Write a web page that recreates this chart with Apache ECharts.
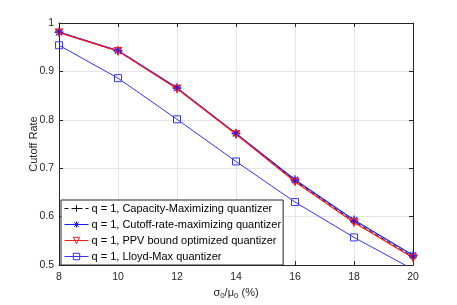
<!DOCTYPE html>
<html><head><meta charset="utf-8">
<script src="https://cdn.jsdelivr.net/npm/echarts@6/dist/echarts.min.js"></script>
<style>html,body{margin:0;padding:0;background:#fff}#c{width:457px;height:305px}</style>
</head><body><div id="c"></div>
<script>
const xValues = [8, 10, 12, 14, 16, 18, 20];
const capacityMax = [0.981, 0.942, 0.865, 0.771, 0.674, 0.590, 0.517];
const cutoffMax = [0.981, 0.943, 0.866, 0.772, 0.676, 0.593, 0.520];
const ppvOpt = [0.980, 0.942, 0.864, 0.770, 0.672, 0.588, 0.515];
const lloydMax = [0.954, 0.886, 0.801, 0.714, 0.630, 0.557, 0.491];
const seriesNames = [
  'q = 1, Capacity-Maximizing quantizer',
  'q = 1, Cutoff-rate-maximizing quantizer',
  'q = 1, PPV bound optimized quantizer',
  'q = 1, Lloyd-Max quantizer'
];
const pair = arr => xValues.map((x, i) => [x, arr[i]]);
const FONT = 'Liberation Sans';
const plusPath = 'path://M0,5L10,5M5,0L5,10';
const starPath = 'path://M0,5L10,5M5,0L5,10M1.5,1.5L8.5,8.5M8.5,1.5L1.5,8.5';
const chart = echarts.init(document.getElementById('c'));
const axisCommon = {
  axisLine: {show: true, lineStyle: {color: '#262626', width: 1}},
  axisTick: {show: true, inside: true, length: 4, lineStyle: {color: '#262626'}},
};
chart.setOption({
  animation: false,
  grid: {left: 59, right: 44, top: 23, bottom: 37},
  xAxis: [
    Object.assign({type: 'value', min: 8, max: 20, interval: 2, position: 'bottom',
      splitLine: {show: true, lineStyle: {color: '#e6e6e6'}},
      axisLabel: {color: '#262626', fontFamily: FONT, fontSize: 10.5, margin: 7},
      name: '{s|σ}{sub|0}{s|/}{s|μ}{sub|0}{s| (%)}', nameLocation: 'middle', nameGap: 21,
      nameMoveOverlap: false,
      nameTextStyle: {rich: {s: {fontFamily: FONT, fontSize: 11, color: '#262626'},
        sub: {fontFamily: FONT, fontSize: 8, color: '#262626', verticalAlign: 'bottom', padding: [6, 0, 0, 0]}}}
    }, axisCommon),
    Object.assign({}, axisCommon, {type: 'value', min: 8, max: 20, interval: 2, position: 'top',
      axisLabel: {show: false}, splitLine: {show: false}})
  ],
  yAxis: [
    Object.assign({type: 'value', min: 0.5, max: 1, interval: 0.1, position: 'left',
      splitLine: {show: true, lineStyle: {color: '#e6e6e6'}},
      name: 'Cutoff Rate', nameLocation: 'middle', nameGap: 20, nameMoveOverlap: false,
      nameTextStyle: {fontFamily: FONT, fontSize: 11, color: '#262626'},
      axisLabel: {color: '#262626', fontFamily: FONT, fontSize: 10.5, margin: 5, formatter: v => +v.toFixed(1) + ''}
    }, axisCommon),
    Object.assign({}, axisCommon, {type: 'value', min: 0.5, max: 1, interval: 0.1, position: 'right',
      axisLabel: {show: false}, splitLine: {show: false}})
  ],
  legend: {
    left: 61, top: 200, orient: 'vertical', itemGap: 5, itemWidth: 24, itemHeight: 8,
    backgroundColor: '#fff', borderColor: '#262626', borderWidth: 1, borderRadius: 0,
    padding: [3, 2, 3, 3],
    lineStyle: {width: 1}, itemStyle: {borderWidth: 1},
    textStyle: {fontFamily: FONT, fontSize: 11, color: '#000', padding: [0, 0, 0, -2]},
    data: seriesNames
  },
  series: [
    {name: seriesNames[0], type: 'line', data: pair(capacityMax), symbol: plusPath, symbolSize: 8,
      lineStyle: {color: '#000', width: 1, type: [4, 3]},
      itemStyle: {color: 'transparent', borderColor: '#000', borderWidth: 1}, color: '#000'},
    {name: seriesNames[1], type: 'line', data: pair(cutoffMax), symbol: starPath, symbolSize: 9,
      lineStyle: {color: '#1a1aff', width: 1.2},
      itemStyle: {color: 'transparent', borderColor: '#1a1aff', borderWidth: 1.2}, color: '#1a1aff'},
    {name: seriesNames[2], type: 'line', data: pair(ppvOpt), symbol: 'triangle', symbolRotate: 180, symbolSize: 7,
      lineStyle: {color: '#ff1a1a', width: 1.2},
      itemStyle: {color: 'transparent', borderColor: '#ff1a1a', borderWidth: 1.2}, color: '#ff1a1a'},
    {name: seriesNames[3], type: 'line', data: pair(lloydMax), symbol: 'rect', symbolSize: 7,
      lineStyle: {color: '#3333ff', width: 1},
      itemStyle: {color: 'transparent', borderColor: '#3333ff', borderWidth: 1}, color: '#3333ff'}
  ]
});
</script></body></html>
